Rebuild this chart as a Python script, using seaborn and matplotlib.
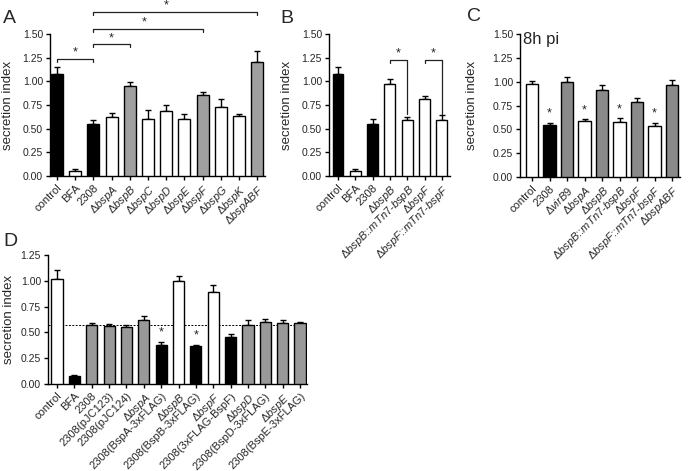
import numpy as np
import matplotlib
matplotlib.use("Agg")
import matplotlib.pyplot as plt
import seaborn as sns
from matplotlib.ticker import FormatStrFormatter

sns.set_style("ticks")
plt.rcParams['font.family'] = ['Liberation Sans', 'DejaVu Sans']
plt.rcParams['mathtext.fontset'] = 'custom'
plt.rcParams['mathtext.rm'] = 'Liberation Sans'
plt.rcParams['mathtext.it'] = 'Liberation Sans:italic'

BLK, WHT = '#000000', '#ffffff'
GRA, GRC, GRD = '#a0a0a0', '#8a8a8a', '#999999'

# panel A
a_names = ['control', 'BFA', '2308', 'ΔbspA', 'ΔbspB', 'ΔbspC', 'ΔbspD', 'ΔbspE',
           'ΔbspF', 'ΔbspG', 'ΔbspK', 'ΔbspABF']
a_vals = [1.08, 0.05, 0.55, 0.62, 0.95, 0.60, 0.69, 0.60, 0.86, 0.73, 0.63, 1.20]
a_err = [0.07, 0.02, 0.04, 0.05, 0.04, 0.10, 0.06, 0.05, 0.03, 0.08, 0.03, 0.12]
a_cols = [BLK, WHT, BLK, WHT, GRA, WHT, WHT, WHT, GRA, WHT, WHT, GRA]

# panel B
b_names = ['control', 'BFA', '2308', 'ΔbspB', 'ΔbspB::mTn7-bspB', 'ΔbspF', 'ΔbspF::mTn7-bspF']
b_vals = [1.08, 0.05, 0.55, 0.97, 0.59, 0.81, 0.59]
b_err = [0.07, 0.02, 0.05, 0.05, 0.03, 0.04, 0.05]
b_cols = [BLK, WHT, BLK, WHT, WHT, WHT, WHT]

# panel C
c_names = ['control', '2308', 'ΔvirB9', 'ΔbspA', 'ΔbspB', 'ΔbspB::mTn7-bspB',
           'ΔbspF', 'ΔbspF::mTn7-bspF', 'ΔbspABF']
c_vals = [0.98, 0.55, 1.00, 0.59, 0.91, 0.58, 0.79, 0.53, 0.97]
c_err = [0.03, 0.02, 0.05, 0.02, 0.05, 0.04, 0.04, 0.04, 0.05]
c_cols = [WHT, BLK, GRC, WHT, GRC, WHT, GRC, WHT, GRC]
c_star = ['2308', 'ΔbspA', 'ΔbspB::mTn7-bspB', 'ΔbspF::mTn7-bspF']

# panel D
d_names = ['control', 'BFA', '2308', '2308(pJC123)', '2308(pJC124)', 'ΔbspA',
           '2308(BspA-3xFLAG)', 'ΔbspB', '2308(BspB-3xFLAG)', 'ΔbspF',
           '2308(3xFLAG-BspF)', 'ΔbspD', '2308(BspD-3xFLAG)', 'ΔbspE', '2308(BspE-3xFLAG)']
d_vals = [1.02, 0.08, 0.57, 0.56, 0.55, 0.62, 0.38, 1.00, 0.37, 0.89, 0.46, 0.57, 0.60, 0.59, 0.59]
d_err = [0.08, 0.01, 0.02, 0.02, 0.02, 0.04, 0.03, 0.05, 0.01, 0.07, 0.02, 0.05, 0.03, 0.03, 0.01]
d_cols = [WHT, BLK, GRD, GRD, GRD, GRD, BLK, WHT, BLK, WHT, BLK, GRD, GRD, GRD, GRD]
d_star = ['2308(BspA-3xFLAG)', '2308(BspB-3xFLAG)']
d_ref = 0.575

W, H = 689, 471
fig = plt.figure(figsize=(W / 100, H / 100), dpi=100)


def pretty(name):
    if name.startswith('Δ'):
        parts = name[1:].split('::')
        if len(parts) == 2:
            a, rest = parts
            m, g = rest.split('-')
            return 'Δ$\\mathit{%s}$::$\\mathit{%s}$-$\\mathit{%s}$' % (a, m, g)
        return 'Δ$\\mathit{%s}$' % parts[0]
    return name


def panel(left, top, right, bottom, first, step, names, vals, errs, cols, ymax, width, labx):
    ax = fig.add_axes([left / W, 1 - bottom / H, (right - left) / W, (bottom - top) / H])
    sns.barplot(x=names, y=vals, hue=names, palette=cols, legend=False, width=width,
                edgecolor='black', linewidth=1, ax=ax, zorder=3)
    n = len(names)
    ax.errorbar(np.arange(n), vals, yerr=[np.zeros(n), errs], fmt='none', ecolor='black',
                elinewidth=1, capsize=2.5, capthick=1, zorder=2)
    ax.set_xlim(-(first - left) / step, (right - first) / step)
    ax.set_ylim(0, ymax)
    ax.set_yticks(np.arange(0, ymax + 0.01, 0.25))
    ax.yaxis.set_major_formatter(FormatStrFormatter('%.2f'))
    ax.set_xticks(np.arange(n))
    ax.set_xticklabels([pretty(s) for s in names], rotation=45, ha='right',
                       rotation_mode='anchor', fontsize=8)
    ax.tick_params(axis='y', labelsize=7.5, length=3, width=1, color='black', pad=2)
    ax.tick_params(axis='x', length=3, width=1, color='black', pad=2)
    for s in ['top', 'right']:
        ax.spines[s].set_visible(False)
    for s in ['left', 'bottom']:
        ax.spines[s].set_color('black')
        ax.spines[s].set_linewidth(1)
    ax.set_xlabel('')
    ax.set_ylabel('secretion index', fontsize=9.5)
    ax.yaxis.set_label_coords((labx - left) / (right - left), 0.5)
    return ax


def bracket(ax, x1, x2, y, d1, d2, sx):
    ax.plot([x1, x1, x2, x2], [y - d1, y, y, y - d2], color='#222222', lw=0.9, clip_on=False)
    ax.text(sx, y + 0.005, '*', ha='center', va='bottom', fontsize=9, clip_on=False)


axA = panel(50, 34, 265, 176, 57, 18.2, a_names, a_vals, a_err, a_cols, 1.5, 0.66, 14)
bracket(axA, 0, 2, 1.235, 0.03, 0.03, 1.0)
bracket(axA, 2, 4, 1.39, 0.03, 0.03, 3.0)
bracket(axA, 2, 8, 1.55, 0.03, 0.03, 4.8)
bracket(axA, 2, 11, 1.73, 0.03, 0.03, 6.0)

axB = panel(329, 34, 450, 176, 338, 17.3, b_names, b_vals, b_err, b_cols, 1.5, 0.63, 293)
bracket(axB, 3, 4, 1.23, 0.04, 0.58, 3.5)
bracket(axB, 5, 6, 1.23, 0.04, 0.57, 5.5)

axC = panel(520, 34, 680, 177, 532, 17.5, c_names, c_vals, c_err, c_cols, 1.5, 0.7, 478)
for nm in c_star:
    i = c_names.index(nm)
    axC.text(i, c_vals[i] + c_err[i] + 0.03, '*', ha='center', va='bottom', fontsize=9)
axC.text(0.02, 1.52, '8h pi', transform=axC.get_yaxis_transform(), ha='left', va='top', fontsize=12)

axD = panel(48, 255, 307, 384, 57, 17.36, d_names, d_vals, d_err, d_cols, 1.25, 0.64, 15)
axD.axhline(d_ref, color='black', lw=0.7, ls=(0, (2, 1.5)), zorder=1)
for nm in d_star:
    i = d_names.index(nm)
    axD.text(i, d_vals[i] + d_err[i] + 0.03, '*', ha='center', va='bottom', fontsize=9)

for lab, x, y in [('A', 3, 10), ('B', 280, 10), ('C', 467, 8), ('D', 3, 233)]:
    fig.text(x / W, 1 - y / H, lab, ha='left', va='top', fontsize=14)

fig.savefig('out.png', dpi=100)
